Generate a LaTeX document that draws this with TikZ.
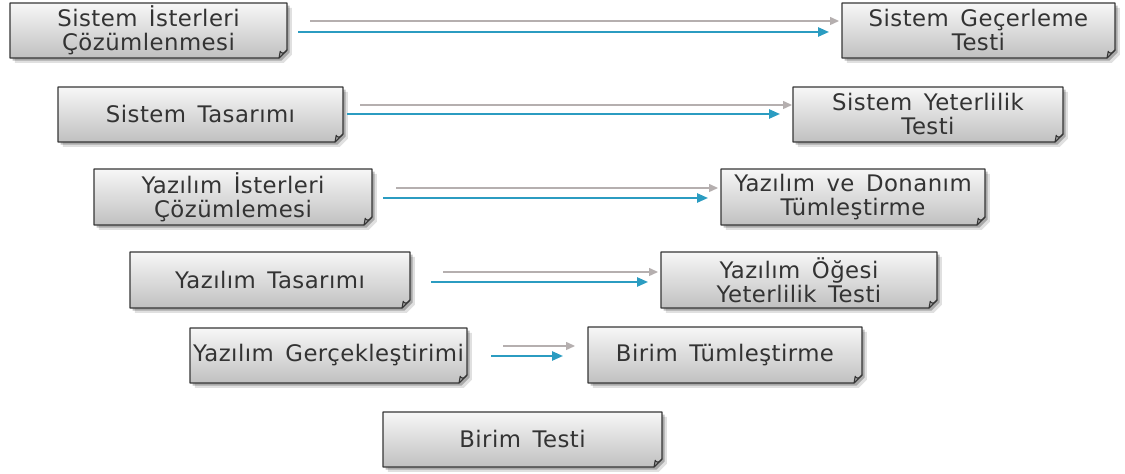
\documentclass[tikz,border=0pt]{standalone}
\usepackage{fontspec}
\setmainfont{DejaVu Sans}[WordSpace=1.5, LetterSpace=2]
\usetikzlibrary{arrows.meta,shadows,backgrounds,calc}

\definecolor{txt}{HTML}{333333}
\definecolor{boxtop}{HTML}{F7F7F7}
\definecolor{boxbot}{HTML}{C0C0C0}
\definecolor{edge}{HTML}{363636}
\definecolor{flapfill}{HTML}{9A9A9A}
\definecolor{flowgray}{HTML}{B5AFAF}
\definecolor{flowblue}{HTML}{2B9CC1}

\tikzset{
  stage/.style={rectangle, inner sep=0pt, outer sep=0pt, minimum height=27.5pt,
    align=center, text=txt, font=\fontsize{11.4}{12}\selectfont},
  boxbody/.style={draw=edge, line width=0.6pt, line join=round,
    top color=boxtop, bottom color=boxbot,
    drop shadow={shadow xshift=2.4pt, shadow yshift=-2.4pt, fill=black, opacity=0.12},
    drop shadow={shadow xshift=1.3pt, shadow yshift=-1.3pt, fill=black, opacity=0.25}},
  flap/.style={fill=flapfill, draw=edge, line width=0.5pt, line join=round},
  planned/.style={draw=flowgray, line width=0.7pt, -{Triangle[length=4.5pt,width=4pt]}},
  actual/.style={draw=flowblue, line width=1pt, -{Triangle[length=5.5pt,width=4.6pt]}},
}

\begin{document}
\begin{tikzpicture}[x=0.5pt, y=-0.5pt]
  \useasboundingbox (0,0) rectangle (1125,474);

  % left leg: development stages
  \node[stage, minimum width=138.5pt] (sisIst) at (148.5,30.5) {Sistem İsterleri\\Çözümlenmesi};
  \node[stage, minimum width=142.5pt] (sisTas) at (200.5,114.5) {Sistem Tasarımı};
  \node[stage, minimum width=139pt, minimum height=28pt] (yazIst) at (233,197) {Yazılım İsterleri\\Çözümlemesi};
  \node[stage, minimum width=140pt, minimum height=28pt] (yazTas) at (270,280) {Yazılım Tasarımı};
  \node[stage, minimum width=138.5pt] (yazGer) at (328.5,355.5) {Yazılım Gerçekleştirimi};
  \node[stage, minimum width=139.5pt] (birTest) at (522.5,439.5) {Birim Testi};

  % right leg: integration and test stages
  \node[stage, minimum width=136.5pt] (sisGec) at (978.5,30.5) {Sistem Geçerleme\\Testi};
  \node[stage, minimum width=135pt] (sisYet) at (928,114.5) {Sistem Yeterlilik\\Testi};
  \node[stage, minimum width=132pt, minimum height=28pt] (yazDon) at (853,197) {Yazılım ve Donanım\\Tümleştirme};
  \node[stage, minimum width=138pt, minimum height=28pt] (yazOge) at (799,280) {Yazılım Öğesi\\Yeterlilik Testi};
  \node[stage, minimum width=137pt, minimum height=28pt] (birTum) at (725,355) {Birim Tümleştirme};

  % box bodies with a folded bottom-right corner
  \begin{scope}[on background layer]
    \foreach \n in {sisIst,sisTas,yazIst,yazTas,yazGer,birTest,sisGec,sisYet,yazDon,yazOge,birTum} {
      \path[boxbody] (\n.north west) -- (\n.north east) -- ([yshift=4pt]\n.south east)
        -- ([xshift=-4pt]\n.south east) -- (\n.south west) -- cycle;
      \path[flap] ([yshift=4pt]\n.south east) .. controls ([shift={(-1.5pt,1.5pt)}]\n.south east) and ([shift={(-3.2pt,2.6pt)}]\n.south east) .. ([shift={(-3.4pt,3.4pt)}]\n.south east)
        -- ([xshift=-4pt]\n.south east) -- cycle;
    }
  \end{scope}

  % paired flows between the levels
  \draw[planned] ($(sisIst.east)+(23,-9.5)$) -- ($(sisGec.west)+(-3,-9.5)$);
  \draw[actual]  ($(sisIst.east)+(11,1.5)$)  -- ($(sisGec.west)+(-13,1.5)$);

  \draw[planned] ($(sisTas.east)+(17,-9.5)$) -- ($(sisYet.west)+(-1,-9.5)$);
  \draw[actual]  ($(sisTas.east)+(4,-0.5)$)  -- ($(sisYet.west)+(-13,-0.5)$);

  \draw[planned] ($(yazIst.east)+(24,-9)$) -- ($(yazDon.west)+(-3,-9)$);
  \draw[actual]  ($(yazIst.east)+(11,1)$)  -- ($(yazDon.west)+(-13,1)$);

  \draw[planned] ($(yazTas.east)+(33,-8)$) -- ($(yazOge.west)+(-3,-8)$);
  \draw[actual]  ($(yazTas.east)+(21,2)$)  -- ($(yazOge.west)+(-13,2)$);

  \draw[planned] ($(yazGer.east)+(36,-9.5)$) -- ($(birTum.west)+(-13,-9)$);
  \draw[actual]  ($(yazGer.east)+(24,0.5)$)  -- ($(birTum.west)+(-25,1)$);
\end{tikzpicture}
\end{document}
